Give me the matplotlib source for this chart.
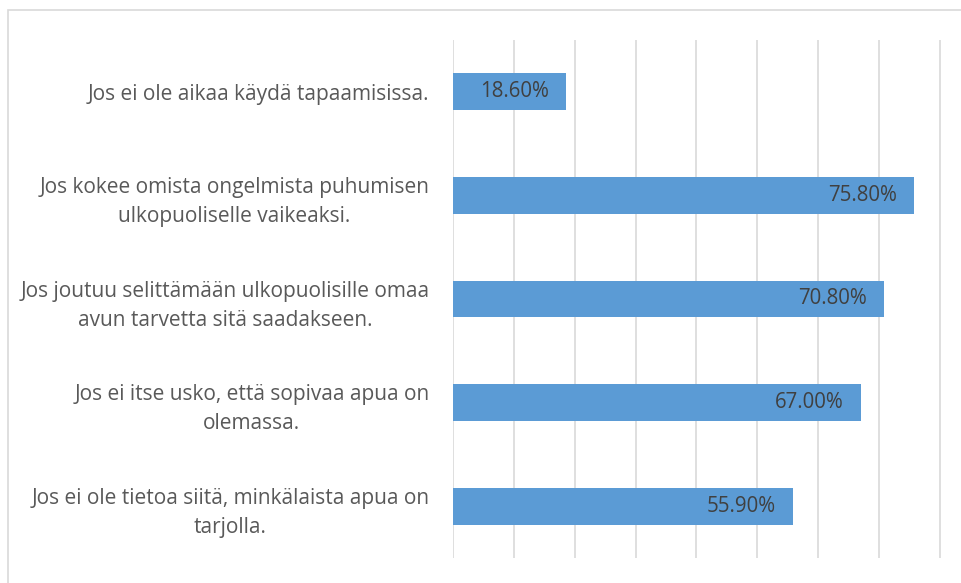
import matplotlib

matplotlib.use("Agg")

import matplotlib.pyplot as plt
from matplotlib.patches import Rectangle

categories = [
    "Jos ei ole aikaa käydä tapaamisissa.",
    "Jos kokee omista ongelmista puhumisen\nulkopuoliselle vaikeaksi.",
    "Jos joutuu selittämään ulkopuolisille omaa\navun tarvetta sitä saadakseen.",
    "Jos ei itse usko, että sopivaa apua on\nolemassa.",
    "Jos ei ole tietoa siitä, minkälaista apua on\ntarjolla.",
]
values = [18.6, 75.8, 70.8, 67.0, 55.9]
grid_ticks = [0, 10, 20, 30, 40, 50, 60, 70, 80]

plt.rcParams["font.family"] = ["Open Sans", "DejaVu Sans"]

fig = plt.figure(figsize=(9.62, 5.83), dpi=100)
fig.patches.append(
    Rectangle((8 / 962, -0.01), 1.0, 1 - 10 / 583 + 0.01, transform=fig.transFigure,
              fill=False, edgecolor="#D9D9D9", linewidth=1.2)
)
ax = fig.add_axes([453 / 962, 25 / 583, 488 / 962, 518 / 583])

pos = list(range(len(categories)))
bars = ax.barh(pos, values, height=0.355, color="#5B9BD5", zorder=2)
ax.set_ylim(len(categories) - 0.5, -0.5)
ax.set_xlim(0, 80.2)

ax.set_xticks(grid_ticks)
ax.xaxis.grid(True, color="#D9D9D9", linewidth=1.2, zorder=0)
ax.tick_params(axis="x", length=0, labelbottom=False)
for s in ax.spines.values():
    s.set_visible(False)

ax.set_yticks(pos)
ax.set_yticklabels(categories, fontsize=15, color="#595959",
                   multialignment="center", linespacing=1.5)
ax.tick_params(axis="y", length=0, pad=17)

for b, v in zip(bars, values):
    ax.text(b.get_width() - 2.8, b.get_y() + b.get_height() / 2, f"{v:.2f}%",
            ha="right", va="center", fontsize=14.8, color="#404040", zorder=3)

fig.savefig("out.png", dpi=100)
